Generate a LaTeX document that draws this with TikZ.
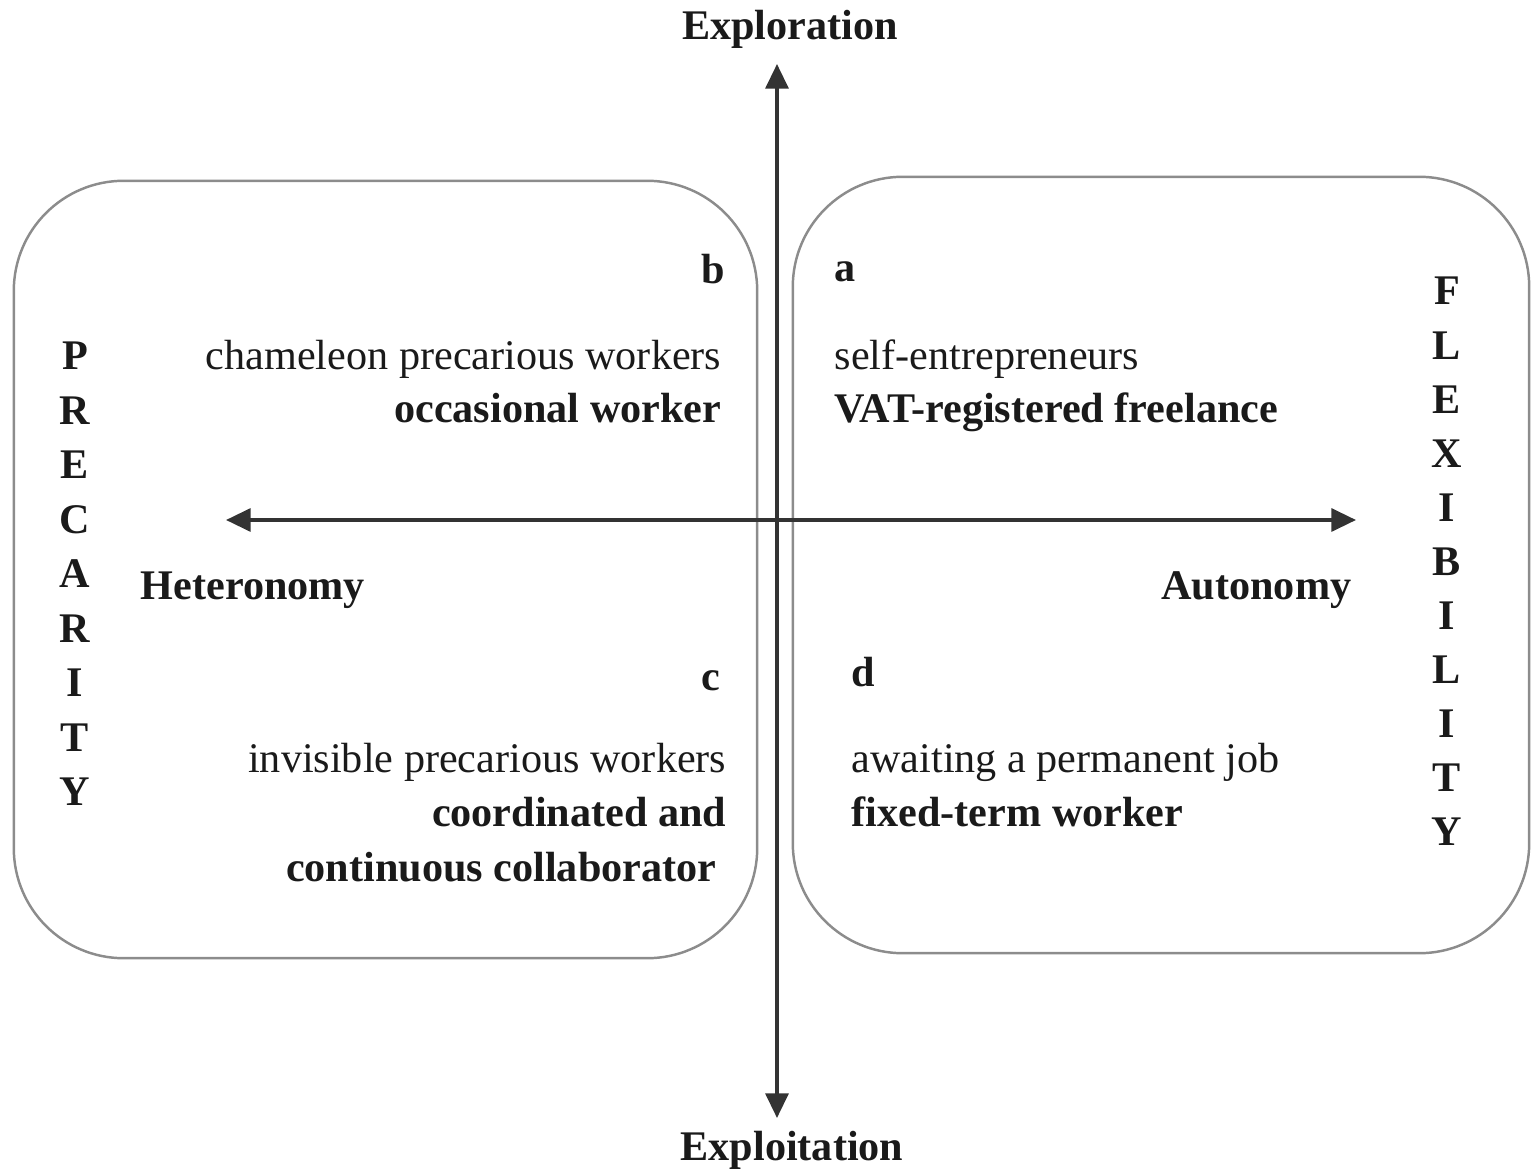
\documentclass[tikz,border=0pt]{standalone}
\usepackage{fontspec}
\setmainfont{Liberation Serif}
\usepackage{xcolor}
\usetikzlibrary{arrows.meta}

\definecolor{axisgray}{HTML}{333333}
\definecolor{boxgray}{HTML}{8C8C8C}
\definecolor{inkblack}{HTML}{1A1A1A}

\begin{document}
\begin{tikzpicture}[
    x=0.01cm, y=-0.01cm,
    quad/.style={rectangle, draw=boxgray, line width=0.7pt, rounded corners=1.1cm, inner sep=0pt},
    txt/.style={inner sep=0pt, text=inkblack, font=\fontsize{12pt}{14pt}\selectfont},
    txtbf/.style={inner sep=0pt, text=inkblack, font=\fontsize{12pt}{14pt}\selectfont\bfseries},
    axis/.style={draw=axisgray, line width=1pt, {Triangle[length=7pt,width=6.5pt]}-{Triangle[length=7pt,width=6.5pt]}}
]
\useasboundingbox (0,0) rectangle (1532,1170);

% the two quadrant boxes
\node [quad, minimum width=7.43cm, minimum height=7.77cm] (boxleft) at (385.5,569.5) {};
\node [quad, minimum width=7.36cm, minimum height=7.76cm] (boxright) at (1161,565) {};

% axes
\coordinate (top) at (777,64);
\coordinate (bottom) at (777,1118);
\coordinate (west) at (226,520);
\coordinate (east) at (1356,520);
\path [axis] (bottom) -- (top);
\path [axis] (west) -- (east);

\node [txtbf, anchor=base] (explor) at (790,40) {Exploration};
\node [txtbf, anchor=base] (exploit) at (792,1160) {Exploitation};
\node [txtbf, anchor=base west] (hetero) at (140,600) {Heteronomy};
\node [txtbf, anchor=base east] (auto) at (1352,600) {Autonomy};

% quadrant b
\node [txtbf, anchor=base east] (qb) at (726,284) {b};
\node [txt, anchor=base east] (chameleon) at (722,370) {chameleon precarious workers};
\node [txtbf, anchor=base east] (occasional) at (722,423) {occasional worker};

% quadrant a
\node [txtbf, anchor=base west] (qa) at (834,282) {a};
\node [txt, anchor=base west] (selfent) at (834,370) {self-entrepreneurs};
\node [txtbf, anchor=base west] (vat) at (834,423) {VAT-registered freelance};

% quadrant c
\node [txtbf, anchor=base east] (qc) at (721,690) {c};
\node [txt, anchor=base east] (invisible) at (727,772) {invisible precarious workers};
\node [txtbf, anchor=base east] (coord) at (727,827) {coordinated and};
\node [txtbf, anchor=base east] (contin) at (717,882) {continuous collaborator};

% quadrant d
\node [txtbf, anchor=base west] (qd) at (851,686) {d};
\node [txt, anchor=base west] (awaiting) at (851,772) {awaiting a permanent job};
\node [txtbf, anchor=base west] (fixed) at (851,827) {fixed-term worker};

% vertical words
\foreach \l [count=\i] in {P,R,E,C,A,R,I,T,Y}
    \node [txtbf, anchor=base] (prec\i) at (75,{370+54.5*(\i-1)}) {\l};
\foreach \l [count=\i] in {F,L,E,X,I,B,I,L,I,T,Y}
    \node [txtbf, anchor=base] (flex\i) at (1447,{305+54.1*(\i-1)}) {\l};
\end{tikzpicture}
\end{document}
